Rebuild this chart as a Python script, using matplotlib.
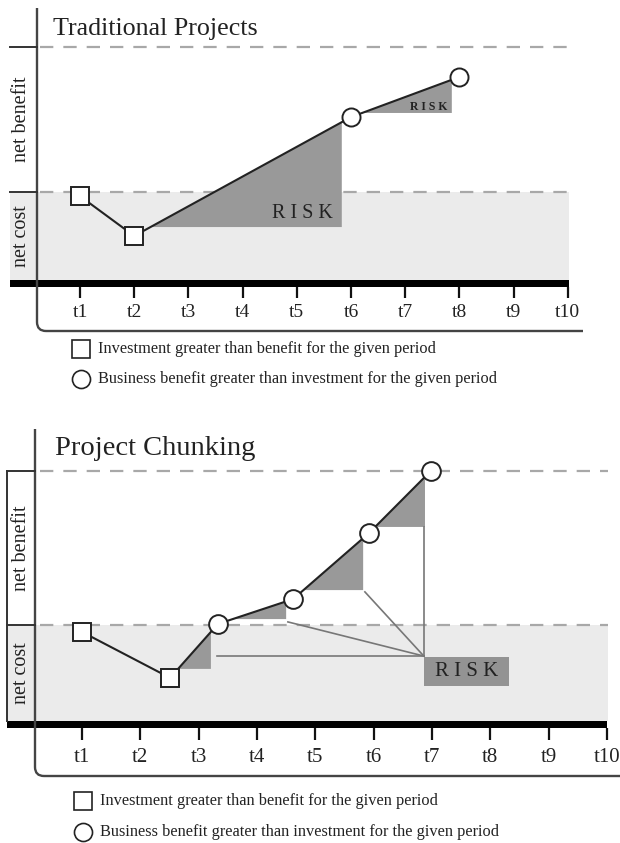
import numpy as np
import matplotlib.pyplot as plt
from matplotlib.path import Path
from matplotlib.patches import PathPatch, Rectangle, Polygon

plt.rcParams['font.family'] = ['Liberation Serif', 'DejaVu Serif']

W, H = 620, 843

# ---- data ----
periods = [f't{i}' for i in range(1, 11)]

trad_t = [1, 2, 6, 8]
trad_value = [-0.17, -1.82, 3.10, 4.76]
trad_kind = ['s', 's', 'o', 'o']
# shaded risk wedges: segment start index, base level, right edge
trad_risk_seg = [1, 2]
trad_risk_base = [-1.45, 3.27]
trad_risk_end = [5.83, 7.86]

chunk_t = [1, 2.51, 3.33, 4.62, 5.92, 6.98]
chunk_value = [-0.27, -2.06, 0.04, 1.01, 3.58, 6.0]
chunk_kind = ['s', 's', 'o', 'o', 'o', 'o']
chunk_risk_seg = [1, 2, 3, 4]
chunk_risk_base = [-1.71, 0.23, 1.36, 3.82]
chunk_risk_end = [3.21, 4.50, 5.82, 6.88]
# thin lines gathering the wedges into one RISK box
chunk_link_t = [3.31, 4.53, 5.85, 6.86]
chunk_link_v = [-1.21, 0.12, 1.29, 3.82]
chunk_hub = (6.86, -1.21)
chunk_box = (6.86, -2.38, 8.32, -1.25)   # t0, v0, t1, v1

legend_labels = ['Investment greater than benefit for the given period',
                 'Business benefit greater than investment for the given period']

# ---- layout (pixels of the 620x843 canvas) ----
top = dict(row0=0, row1=421, t1_px=80, px_per_t=54.2, zero_row=192,
           px_per_unit=24.17, bar_bottom=287, tick_len=8, tick_pad=4.5,
           tick_size=14)
bottom = dict(row0=421, row1=843, t1_px=82, px_per_t=58.33, zero_row=625,
              px_per_unit=25.67, bar_bottom=728, tick_len=8.6, tick_pad=5.5,
              tick_size=15)

DARK = '#222222'
TRI = '#999999'
LIGHT = '#ebebeb'
DASH = '#a8a8a8'

fig = plt.figure(figsize=(W / 100, H / 100), dpi=100)
deco = fig.add_axes([0, 0, 1, 1], zorder=1)
deco.set_xlim(0, W)
deco.set_ylim(H, 0)
deco.axis('off')


def data_axes(p):
    ax = fig.add_axes([0, 1 - p['row1'] / H, 1, (p['row1'] - p['row0']) / H],
                      zorder=2)
    ax.patch.set_visible(False)
    ax.set_xlim(1 - p['t1_px'] / p['px_per_t'], 1 + (W - p['t1_px']) / p['px_per_t'])
    ax.set_ylim((p['zero_row'] - p['row1']) / p['px_per_unit'],
                (p['zero_row'] - p['row0']) / p['px_per_unit'])
    for s in ['top', 'left', 'right']:
        ax.spines[s].set_visible(False)
    ax.spines['bottom'].set_position(
        ('data', (p['zero_row'] - p['bar_bottom']) / p['px_per_unit']))
    ax.spines['bottom'].set_visible(False)
    ax.set_yticks([])
    ax.set_xticks(range(1, 11))
    ax.set_xticklabels(periods)
    ax.tick_params(axis='x', direction='out', length=p['tick_len'], width=1.6,
                   color='#111111', pad=p['tick_pad'], labelsize=p['tick_size'],
                   labelcolor=DARK)
    return ax


def wedge(ax, t, v, seg, base, end):
    t0, t1 = t[seg], t[seg + 1]
    v0, v1 = v[seg], v[seg + 1]
    start = t0 + (base - v0) / (v1 - v0) * (t1 - t0)
    top_v = np.interp(end, [t0, t1], [v0, v1])
    ax.add_patch(Polygon([(start, base), (end, top_v), (end, base)],
                         closed=True, fc=TRI, ec='none', zorder=2))


def series(ax, t, v, kinds, ms):
    ax.plot(t, v, color=DARK, lw=1.5, zorder=3, solid_capstyle='round')
    for ti, vi, k in zip(t, v, kinds):
        ax.plot(ti, vi, marker=k, ms=ms, mfc='white', mec=DARK, mew=1.4,
                zorder=4, linestyle='none')


def frame(rows):
    r = rows
    deco.add_patch(Rectangle((r['left'], r['cost_top']), r['right'] - r['left'],
                             r['bar_top'] - r['cost_top'], fc=LIGHT, ec='none'))
    for y in (r['benefit_top'], r['cost_top']):
        deco.plot([40, r['dash_end']], [y, y], color=DASH, lw=1.6,
                  dashes=(6, 4.5))
        deco.plot([r['left'], r['axis_x']], [y, y], color='#333333', lw=1.4)
    deco.add_patch(Rectangle((r['left'], r['bar_top']), r['bar_end'] - r['left'],
                             r['bar_h'], fc='black', ec='none'))
    ax_x, cy, rad = r['axis_x'], r['curve_y'], 9
    path = Path([(ax_x, r['axis_top']), (ax_x, cy - rad), (ax_x, cy),
                 (ax_x + rad, cy), (r['curve_end'], cy)],
                [Path.MOVETO, Path.LINETO, Path.CURVE3, Path.CURVE3, Path.LINETO])
    deco.add_patch(PathPatch(path, fc='none', ec='#444444', lw=1.7))
    deco.text(r['title_x'], r['title_y'], r['title'], fontsize=r['title_size'],
              color=DARK, va='baseline', ha='left')
    deco.text(r['lab_x'], (r['benefit_top'] + r['cost_top']) / 2, 'net benefit',
              rotation=90, fontsize=14.5, color=DARK, ha='center', va='center')
    deco.text(r['lab_x'], (r['cost_top'] + r['bar_top']) / 2, 'net cost',
              rotation=90, fontsize=14.5, color=DARK, ha='center', va='center')
    for (y, k, lab) in zip(r['legend_y'], ['s', 'o'], legend_labels):
        deco.plot(r['legend_x'], y, marker=k, ms=13, mfc='white', mec=DARK,
                  mew=1.2)
        deco.text(r['legend_x'] + 17, y, lab, fontsize=11.8, color=DARK,
                  ha='left', va='center')


frame(dict(left=10, right=569, cost_top=192, benefit_top=47, bar_top=280,
           bar_h=7, bar_end=569, dash_end=570, axis_x=37, axis_top=8,
           curve_y=331, curve_end=583, title='Traditional Projects',
           title_size=18.7, title_x=53, title_y=35, lab_x=22, legend_x=81,
           legend_y=[349, 379]))
frame(dict(left=7, right=608, cost_top=625, benefit_top=471, bar_top=721,
           bar_h=7, bar_end=607, dash_end=608, axis_x=35, axis_top=429,
           curve_y=776, curve_end=620, title='Project Chunking',
           title_size=20.5, title_x=55, title_y=455, lab_x=21, legend_x=83,
           legend_y=[801, 832]))
# outline of the label box in the lower panel
deco.plot([7, 7], [471, 721], color='#333333', lw=1.4)

# ---- traditional projects ----
ax1 = data_axes(top)
for seg, base, end in zip(trad_risk_seg, trad_risk_base, trad_risk_end):
    wedge(ax1, trad_t, trad_value, seg, base, end)
series(ax1, trad_t, trad_value, trad_kind, 13)
ax1.text(5.11, -0.91, 'R I S K', fontsize=14.5, color=DARK, ha='center',
         va='center')
ax1.text(7.44, 3.52, 'R I S K', fontsize=8.5, fontweight='bold', color=DARK,
         ha='center', va='center')

# ---- project chunking ----
ax2 = data_axes(bottom)
for seg, base, end in zip(chunk_risk_seg, chunk_risk_base, chunk_risk_end):
    wedge(ax2, chunk_t, chunk_value, seg, base, end)
for lt, lv in zip(chunk_link_t, chunk_link_v):
    ax2.plot([lt, chunk_hub[0]], [lv, chunk_hub[1]], color='#777777', lw=1.2,
             zorder=2)
bx0, bv0, bx1, bv1 = chunk_box
ax2.add_patch(Rectangle((bx0, bv0), bx1 - bx0, bv1 - bv0, fc='#939393',
                        ec='none', zorder=2))
ax2.text((bx0 + bx1) / 2, (bv0 + bv1) / 2, 'R I S K', fontsize=15, color=DARK,
         ha='center', va='center', zorder=3)
series(ax2, chunk_t, chunk_value, chunk_kind, 13.5)

fig.savefig('out.png', dpi=100)
